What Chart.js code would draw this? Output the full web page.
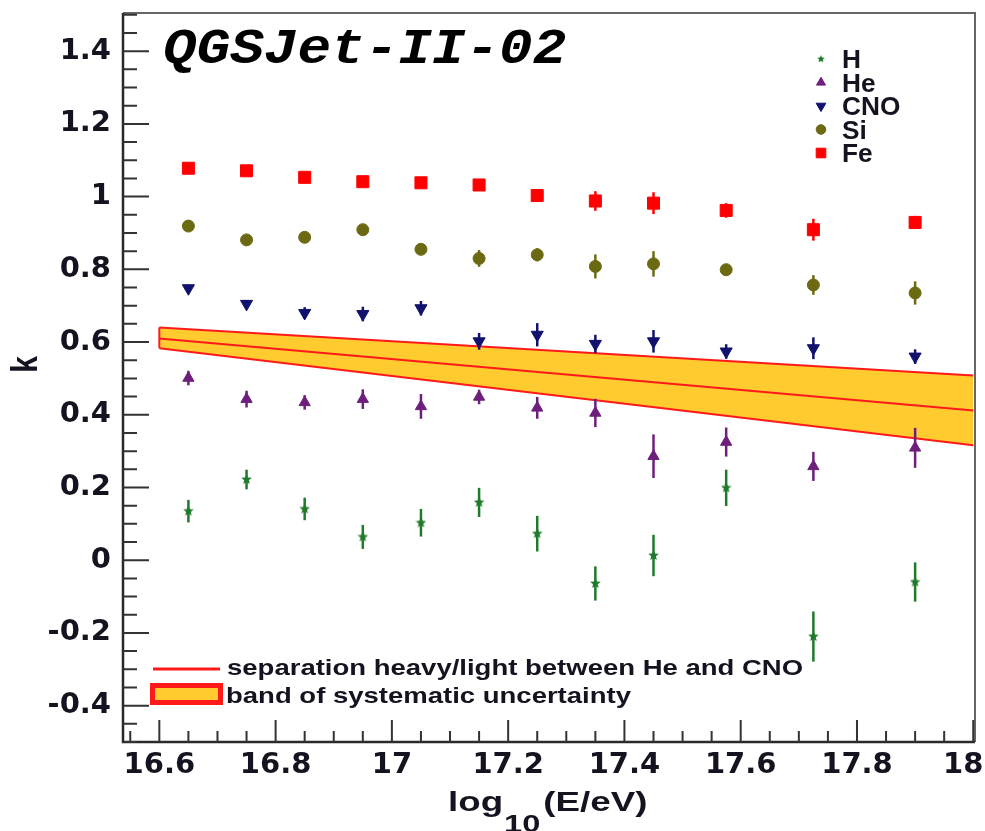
<!DOCTYPE html>
<html>
<head>
<meta charset="utf-8">
<script src="https://cdn.jsdelivr.net/npm/chart.js@4.4.1/dist/chart.umd.min.js"></script>
<style>
html, body { margin: 0; padding: 0; background: #fff; }
#k-chart { display: block; }
</style>
</head>
<body>
<canvas id="k-chart" width="985" height="831"></canvas>
<script>
// bin centres in log10(E/eV)
var binCenters = [16.65, 16.75, 16.85, 16.95, 17.05, 17.15, 17.25, 17.35, 17.45, 17.575, 17.725, 17.9];

// k per primary (value, +-error)
var hK    = [0.135, 0.222, 0.141, 0.064, 0.103, 0.159, 0.073, -0.064, 0.013, 0.199, -0.210, -0.060];
var hErr  = [0.031, 0.027, 0.031, 0.033, 0.038, 0.040, 0.049, 0.047, 0.057, 0.050, 0.069, 0.054];
var heK   = [0.501, 0.443, 0.434, 0.443, 0.423, 0.449, 0.419, 0.405, 0.286, 0.325, 0.258, 0.309];
var heErr = [0.020, 0.023, 0.020, 0.027, 0.034, 0.020, 0.030, 0.039, 0.060, 0.040, 0.040, 0.055];
var cnoK  = [0.748, 0.705, 0.680, 0.677, 0.693, 0.602, 0.620, 0.595, 0.602, 0.574, 0.583, 0.560];
var cnoErr= [0.010, 0.010, 0.016, 0.020, 0.020, 0.023, 0.032, 0.025, 0.031, 0.020, 0.030, 0.020];
var siK   = [0.919, 0.881, 0.888, 0.909, 0.855, 0.830, 0.840, 0.808, 0.815, 0.799, 0.757, 0.735];
var siErr = [0.012, 0.012, 0.012, 0.012, 0.015, 0.023, 0.018, 0.033, 0.035, 0.012, 0.027, 0.032];
var feK   = [1.078, 1.071, 1.053, 1.041, 1.038, 1.032, 1.003, 0.988, 0.982, 0.962, 0.909, 0.929];
var feErr = [0.010, 0.010, 0.012, 0.012, 0.012, 0.016, 0.016, 0.027, 0.030, 0.020, 0.030, 0.018];

// separation line He/CNO and its systematic band
var bandX     = [16.6, 18.0];
var bandUpper = [0.640, 0.508];
var bandMid   = [0.610, 0.412];
var bandLower = [0.583, 0.316];

var xTicks = [16.6, 16.8, 17, 17.2, 17.4, 17.6, 17.8, 18];
var yTicks = [-0.4, -0.2, 0, 0.2, 0.4, 0.6, 0.8, 1, 1.2, 1.4];

var textColor = '#141420';
var bandYellow = '#ffcb2f';
var bandRed = '#ff1a1a';

function makeStar(size, color) {
    var c = document.createElement('canvas');
    c.width = size;
    c.height = size;
    var g = c.getContext('2d');
    var r = size / 2, ri = r * 0.45;
    g.beginPath();
    for (var i = 0; i < 10; i++) {
        var a = -Math.PI / 2 + i * Math.PI / 5;
        var rr = (i % 2) ? ri : r;
        g.lineTo(r + rr * Math.cos(a), r + rr * Math.sin(a));
    }
    g.closePath();
    g.fillStyle = color;
    g.fill();
    return c;
}

function pts(xs, ys) {
    return xs.map(function (x, i) { return { x: x, y: ys[i] }; });
}

function marker(label, ys, errs, color, style, radius, rotation) {
    return {
        label: label,
        data: pts(binCenters, ys),
        errors: errs,
        showLine: false,
        pointStyle: style,
        pointRadius: radius,
        pointRotation: rotation || 0,
        backgroundColor: color,
        borderColor: color,
        borderWidth: 1,
        order: 1
    };
}

function bandLine(ys, fill) {
    return {
        data: pts(bandX, ys),
        showLine: true,
        pointRadius: 0,
        borderColor: bandRed,
        borderWidth: 2,
        backgroundColor: bandYellow,
        fill: fill,
        tension: 0,
        order: 10
    };
}

var starImg = makeStar(11, '#1f7a2a');

var datasets = [
    bandLine(bandUpper, '+2'),
    bandLine(bandMid, false),
    bandLine(bandLower, false),
    marker('H', hK, hErr, '#1f7a2a', starImg, 5),
    marker('He', heK, heErr, '#6e1f7c', 'triangle', 6.5),
    marker('CNO', cnoK, cnoErr, '#11116e', 'triangle', 7, 180),
    marker('Si', siK, siErr, '#6b6a12', 'circle', 6),
    marker('Fe', feK, feErr, '#ff0000', 'rect', 8.5)
];

function drawStretched(ctx, text, x, y, sx) {
    ctx.save();
    ctx.translate(x, y);
    ctx.scale(sx, 1);
    ctx.fillText(text, 0, 0);
    var w = ctx.measureText(text).width * sx;
    ctx.restore();
    return w;
}

var decor = {
    id: 'decor',
    afterDatasetDraw: function (chart, args) {
        var ds = chart.data.datasets[args.index];
        if (!ds.errors) return;
        var ctx = chart.ctx, xs = chart.scales.x, ys = chart.scales.y;
        ctx.save();
        ctx.strokeStyle = ds.borderColor;
        ctx.lineWidth = 2.5;
        ds.data.forEach(function (p, i) {
            var px = xs.getPixelForValue(p.x);
            ctx.beginPath();
            ctx.moveTo(px, ys.getPixelForValue(p.y - ds.errors[i]));
            ctx.lineTo(px, ys.getPixelForValue(p.y + ds.errors[i]));
            ctx.stroke();
        });
        ctx.restore();
    },
    afterDatasetsDraw: function (chart) {
        // red left edge of the band
        var ctx = chart.ctx, xs = chart.scales.x, ys = chart.scales.y;
        ctx.save();
        ctx.strokeStyle = bandRed;
        ctx.lineWidth = 2;
        ctx.beginPath();
        ctx.moveTo(xs.getPixelForValue(bandX[0]), ys.getPixelForValue(bandUpper[0]));
        ctx.lineTo(xs.getPixelForValue(bandX[0]), ys.getPixelForValue(bandLower[0]));
        ctx.stroke();
        ctx.restore();
    },
    afterDraw: function (chart) {
        var ctx = chart.ctx, a = chart.chartArea;
        var xs = chart.scales.x, ys = chart.scales.y;
        ctx.save();

        /* frame */
        ctx.strokeStyle = '#666';
        ctx.lineWidth = 2;
        ctx.beginPath();
        ctx.moveTo(a.left, a.top);
        ctx.lineTo(a.right, a.top);
        ctx.lineTo(a.right, a.bottom);
        ctx.stroke();
        ctx.strokeStyle = '#2a2a2a';
        ctx.lineWidth = 2.5;
        ctx.beginPath();
        ctx.moveTo(a.left, a.top);
        ctx.lineTo(a.left, a.bottom);
        ctx.lineTo(a.right, a.bottom);
        ctx.stroke();

        /* inward ticks, ROOT style */
        ctx.strokeStyle = '#333';
        ctx.lineWidth = 2;
        ctx.beginPath();
        for (var i = -10; i <= 30; i++) {
            var py = ys.getPixelForValue(i * 0.05);
            if (py < a.top || py > a.bottom) continue;
            var len = (i % 4 === 0) ? 26 : 14;
            ctx.moveTo(a.left, py);
            ctx.lineTo(a.left + len, py);
        }
        for (var j = 330; j <= 360; j++) {
            var px = xs.getPixelForValue(j * 0.05);
            if (px < a.left || px > a.right + 1) continue;
            var xl = (j % 4 === 0) ? 22 : 11;
            ctx.moveTo(px, a.bottom);
            ctx.lineTo(px, a.bottom - xl);
        }
        ctx.stroke();

        /* model name */
        ctx.fillStyle = '#000';
        ctx.textAlign = 'left';
        ctx.textBaseline = 'alphabetic';
        ctx.font = 'italic bold 50px "Liberation Mono"';
        drawStretched(ctx, 'QGSJet-II-02', 163, 63, 1.12);

        /* element legend */
        var mds = chart.data.datasets.filter(function (d) { return d.errors; });
        ctx.font = 'bold 25px "Liberation Sans"';
        mds.forEach(function (d, k) {
            var ry = 59 + k * 23.5;
            ctx.fillStyle = d.backgroundColor;
            ctx.strokeStyle = d.borderColor;
            ctx.lineWidth = 1;
            if (typeof d.pointStyle === 'string') {
                Chart.helpers.drawPoint(ctx, {
                    pointStyle: d.pointStyle,
                    radius: d.pointRadius * 0.8,
                    rotation: d.pointRotation,
                    borderWidth: 1
                }, 821, ry);
            } else {
                ctx.drawImage(d.pointStyle, 817, ry - 4, 8, 8);
            }
            ctx.fillStyle = textColor;
            drawStretched(ctx, d.label, 842, ry + 9, 1.05);
        });

        /* band legend */
        ctx.strokeStyle = bandRed;
        ctx.lineWidth = 3;
        ctx.beginPath();
        ctx.moveTo(153, 669);
        ctx.lineTo(220, 669);
        ctx.stroke();
        ctx.fillStyle = bandYellow;
        ctx.fillRect(150, 683, 73, 22);
        ctx.lineWidth = 5;
        ctx.strokeRect(152.5, 685.5, 68, 17);
        ctx.fillStyle = textColor;
        ctx.font = 'bold 22px "Liberation Sans"';
        drawStretched(ctx, 'separation heavy/light between He and CNO', 227, 675, 1.25);
        drawStretched(ctx, 'band of systematic uncertainty', 226, 703, 1.25);

        /* axis titles */
        ctx.font = 'bold 27px "Liberation Sans"';
        var tx = 448;
        tx += drawStretched(ctx, 'log', tx, 811, 1.36);
        ctx.font = 'bold 24px "Liberation Sans"';
        tx += drawStretched(ctx, '10', tx + 1, 832, 1.36) + 4;
        ctx.font = 'bold 27px "Liberation Sans"';
        drawStretched(ctx, '(E/eV)', tx, 811, 1.36);

        ctx.save();
        ctx.translate(37, 364.5);
        ctx.rotate(-Math.PI / 2);
        ctx.scale(1, 1.25);
        ctx.textAlign = 'center';
        ctx.font = 'bold 30px "Liberation Sans"';
        ctx.fillText('k', 0, 0);
        ctx.restore();

        ctx.restore();
    }
};

function fmtTick(v) {
    var s = String(Number(v.toFixed(1)));
    if (v === 18) s = '18\u00a0\u00a0';
    return s;
}

var tickFont = { family: 'DejaVu Sans', weight: 'bold', size: 29 };

var chart = new Chart(
    document.getElementById('k-chart'),
    {
        type: 'scatter',
        data: { datasets: datasets },
        options: {
            responsive: false,
            animation: false,
            devicePixelRatio: 1,
            layout: { padding: { top: 13, right: 10, left: 0, bottom: 0 } },
            plugins: {
                legend: { display: false },
                tooltip: { enabled: false },
                filler: { drawTime: 'beforeDatasetsDraw' }
            },
            scales: {
                x: {
                    type: 'linear',
                    min: 16.5375,
                    max: 18.003,
                    grid: { display: false, drawTicks: false },
                    border: { display: false },
                    afterBuildTicks: function (s) { s.ticks = xTicks.map(function (v) { return { value: v }; }); },
                    afterFit: function (s) { s.height = 89; s.paddingLeft = 0; s.paddingRight = 0; },
                    ticks: { font: tickFont, color: textColor, padding: 6, maxRotation: 0, autoSkip: false, callback: fmtTick }
                },
                y: {
                    type: 'linear',
                    min: -0.5,
                    max: 1.505,
                    grid: { display: false, drawTicks: false },
                    border: { display: false },
                    afterBuildTicks: function (s) { s.ticks = yTicks.map(function (v) { return { value: v }; }); },
                    afterFit: function (s) { s.width = 123; s.paddingTop = 0; s.paddingBottom = 0; },
                    ticks: { font: tickFont, color: textColor, padding: 12, autoSkip: false, callback: fmtTick }
                }
            }
        },
        plugins: [decor]
    }
);
</script>
</body>
</html>
